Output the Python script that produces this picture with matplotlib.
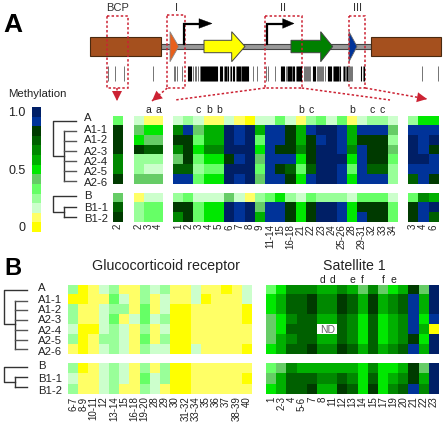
import matplotlib
matplotlib.use("Agg")
import matplotlib.pyplot as plt
import numpy as np
from matplotlib.colors import ListedColormap, BoundaryNorm
from matplotlib.patches import Polygon, Rectangle

plt.rcParams['font.family'] = ['Liberation Sans', 'DejaVu Sans']

W, H = 445, 424

# colour scale, lowest methylation first
LEVEL_COLORS = ['#ffff00', '#ffff66', '#ccffcc', '#99ff99', '#66ff66', '#66cc66', '#00e800',
                '#00b000', '#008800', '#006000', '#003a00', '#003399', '#001f66']

GROUP_A = ['A', 'A1-1', 'A1-2', 'A2-3', 'A2-4', 'A2-5', 'A2-6']
GROUP_B = ['B', 'B1-1', 'B1-2']

# panel A, rows are clones, columns are CpG sites
BCP_COLS = ['2']
BCP_A = [[4], [10], [10], [10], [8], [8], [10]]
BCP_B = [[5], [9], [10]]

REGION1_COLS = ['2', '3', '4']
REGION1_A = [[2, 1, 1], [5, 6, 6], [6, 5, 5], [10, 9, 9], [3, 3, 3], [3, 2, 2], [5, 5, 5]]
REGION1_B = [[1, 2, 2], [3, 4, 4], [3, 4, 4]]

REGION2_COLS = ['1', '2', '3', '4', '5', '6', '7', '8', '9', '11-14', '15', '16-18', '21', '22', '23',
                '24', '25-26', '28', '29-31', '32', '33', '34']
REGION2_A = [
    [2, 3, 2, 1, 1, 2, 1, 0, 2, 2, 4, 2, 1, 3, 4, 2, 4, 1, 2, 3, 3, 2],
    [8, 11, 5, 7, 7, 12, 11, 12, 7, 11, 11, 10, 7, 11, 12, 12, 11, 7, 11, 11, 11, 5],
    [10, 10, 4, 7, 7, 12, 11, 12, 4, 11, 11, 10, 7, 10, 11, 12, 11, 7, 10, 10, 10, 3],
    [8, 10, 6, 8, 8, 12, 12, 12, 6, 11, 10, 10, 8, 10, 12, 12, 11, 8, 11, 10, 10, 5],
    [5, 10, 4, 6, 6, 10, 11, 12, 5, 11, 11, 11, 6, 10, 12, 12, 12, 6, 11, 10, 10, 4],
    [9, 9, 3, 4, 4, 12, 12, 12, 4, 11, 10, 9, 4, 9, 12, 12, 11, 4, 11, 9, 9, 3],
    [11, 11, 4, 6, 6, 12, 11, 12, 5, 11, 11, 10, 6, 11, 12, 12, 11, 6, 11, 11, 11, 3],
]
REGION2_B = [
    [3, 4, 2, 2, 2, 5, 2, 1, 3, 4, 6, 3, 2, 4, 3, 3, 3, 2, 4, 4, 4, 2],
    [10, 10, 4, 6, 6, 12, 11, 12, 5, 11, 11, 10, 6, 10, 12, 12, 11, 6, 10, 10, 10, 4],
    [8, 10, 4, 6, 6, 12, 11, 12, 7, 11, 11, 10, 6, 10, 12, 12, 11, 6, 11, 10, 10, 4],
]

REGION3_COLS = ['3', '4', '6']
REGION3_A = [[3, 6, 6], [11, 11, 11], [12, 11, 12], [12, 11, 10], [12, 12, 11], [11, 11, 11], [9, 11, 10]]
REGION3_B = [[4, 8, 7], [10, 11, 12], [10, 11, 9]]

# panel B
GR_COLS = ['6-7', '8-9', '10-11', '12', '13-14', '15', '16-18', '19-20', '28', '29', '30', '31-32',
           '33-34', '35', '36', '37', '38-39', '40']
GR_A = [
    [3, 0, 1, 2, 3, 1, 1, 3, 2, 3, 1, 1, 2, 1, 1, 0, 1, 2],
    [0, 0, 1, 1, 4, 2, 1, 3, 1, 2, 1, 1, 2, 0, 1, 1, 1, 2],
    [3, 1, 1, 2, 3, 3, 1, 4, 1, 2, 0, 0, 1, 1, 1, 1, 1, 0],
    [3, 1, 1, 2, 4, 1, 2, 4, 2, 3, 0, 0, 1, 1, 1, 1, 1, 0],
    [2, 0, 0, 2, 3, 2, 1, 3, 1, 2, 0, 0, 1, 1, 1, 1, 1, 1],
    [3, 0, 1, 3, 3, 2, 1, 4, 1, 3, 0, 0, 1, 1, 1, 1, 1, 1],
    [1, 0, 1, 2, 3, 2, 1, 3, 2, 2, 0, 0, 2, 1, 1, 1, 1, 0],
]
GR_B = [
    [3, 0, 1, 2, 3, 2, 1, 3, 1, 3, 0, 0, 1, 1, 1, 1, 1, 1],
    [2, 1, 1, 2, 3, 2, 1, 4, 2, 3, 0, 0, 1, 1, 1, 1, 1, 0],
    [3, 1, 1, 2, 3, 1, 1, 3, 2, 1, 0, 0, 1, 1, 1, 1, 1, 1],
]

SAT_COLS = ['1', '2-3', '4', '5-6', '7', '8', '11', '12', '13', '14', '15', '17', '19', '20', '21', '22', '23']
SAT_A = [
    [4, 6, 8, 8, 8, 7, 7, 8, 7, 5, 8, 5, 6, 7, 10, 5, 12],
    [6, 7, 9, 9, 10, 8, 8, 10, 9, 7, 10, 7, 8, 9, 11, 7, 12],
    [6, 7, 9, 9, 10, 8, 8, 10, 9, 7, 10, 7, 8, 9, 11, 7, 12],
    [5, 6, 8, 9, 9, 7, 7, 9, 8, 6, 9, 6, 7, 8, 11, 6, 11],
    [5, 6, 9, 9, 9, np.nan, np.nan, 9, 8, 6, 9, 6, 7, 8, 11, 7, 0],
    [5, 7, 8, 9, 9, 7, 7, 9, 8, 6, 9, 6, 7, 8, 10, 6, 12],
    [6, 7, 9, 9, 10, 8, 8, 10, 9, 7, 9, 7, 8, 9, 11, 7, 12],
]
SAT_B = [
    [4, 5, 8, 7, 7, 7, 7, 7, 7, 6, 8, 6, 6, 7, 10, 5, 12],
    [5, 7, 9, 9, 9, 8, 8, 9, 8, 6, 9, 6, 7, 8, 10, 7, 12],
    [6, 7, 9, 9, 10, 7, 7, 10, 9, 6, 10, 6, 8, 9, 11, 8, 12],
]

# letters above the heat maps, by column label
REGION1_MARKS = {'3': 'a', '4': 'a'}
REGION2_MARKS = {'3': 'c', '4': 'b', '5': 'b', '21': 'b', '22': 'c', '28': 'b', '32': 'c', '33': 'c'}
SAT_MARKS = {'8': 'd', '11': 'd', '13': 'e', '14': 'f', '17': 'f', '19': 'e'}

# CpG site positions along the map, black where they crowd together
CPG_DARK = [188, 189, 190, 191, 201, 202, 203, 204, 205, 206, 207, 208, 209, 210, 211, 212, 213, 214, 215,
            216, 217, 220, 221, 222, 225, 226, 228, 231, 233, 234, 237, 238, 239, 240, 242, 243, 244, 245,
            246, 247, 248, 281, 282, 283, 284, 288, 289, 290, 291, 293, 294, 297, 298, 299, 300, 301,
            313, 314, 315, 328, 329, 330, 331, 334, 335, 336, 337, 338, 340, 344, 347, 361, 364]
CPG_LIGHT = [107.7, 115, 124.3, 152.7, 173.5, 175, 177, 182.3, 193, 195, 196, 198, 199.5, 223.5, 227, 229.5,
             235.5, 241, 253, 257, 266, 268, 275, 285.5, 286.5, 292, 295.5, 304, 305, 306, 307, 308, 309,
             310, 317, 318, 319, 320, 321, 322, 323, 325, 333, 339, 343, 345, 346, 348, 349, 350, 351, 352,
             362.5, 422.3, 437.7]

cmap = ListedColormap(LEVEL_COLORS)
cmap.set_bad('white')
norm = BoundaryNorm(np.arange(-0.5, 13.5), cmap.N)
fig = plt.figure(figsize=(W / 100, H / 100), dpi=100)


def px_axes(x0, y0, x1, y1, **kw):
    return fig.add_axes([x0 / W, 1 - y1 / H, (x1 - x0) / W, (y1 - y0) / H], **kw)


def heat(x0, x1, y0, y1, values, cols=None):
    ax = px_axes(x0, y0, x1, y1)
    ax.imshow(np.array(values, dtype=float), cmap=cmap, norm=norm, aspect='auto', interpolation='nearest')
    ax.set_yticks([])
    for s in ax.spines.values():
        s.set_visible(False)
    if cols:
        ax.set_xticks(range(len(cols)), cols, rotation=90, fontsize=7, color='#222222')
        ax.tick_params(axis='x', length=0, pad=1.5)
    else:
        ax.set_xticks([])
    return ax


# the marks belong above the A block but the column labels below the B block
def block(x0, x1, ya, yb, vals_a, vals_b, cols, marks=None):
    ax_a = heat(x0, x1, ya[0], ya[1], vals_a)
    heat(x0, x1, yb[0], yb[1], vals_b, cols)
    if marks:
        for label, letter in marks.items():
            ax_a.text(cols.index(label), -0.55, letter, ha='center', va='bottom', fontsize=7.5, color='#222222')
    return ax_a


YA1, YB1 = (115.7, 184), (192.7, 222)
block(112.7, 122, YA1, YB1, BCP_A, BCP_B, BCP_COLS)
block(134, 163, YA1, YB1, REGION1_A, REGION1_B, REGION1_COLS, REGION1_MARKS)
block(173, 397.7, YA1, YB1, REGION2_A, REGION2_B, REGION2_COLS, REGION2_MARKS)
block(407.7, 438.3, YA1, YB1, REGION3_A, REGION3_B, REGION3_COLS)

YA2, YB2 = (285, 354.3), (363.3, 394.3)
block(68, 251.7, YA2, YB2, GR_A, GR_B, GR_COLS)
sat = block(266.3, 439, YA2, YB2, SAT_A, SAT_B, SAT_COLS, SAT_MARKS)
sat.text(5.5, 4, 'ND', ha='center', va='center', fontsize=7.5, color='#666666')

# colour key
key = px_axes(31.7, 106.7, 40.7, 231.7)
key.imshow(np.arange(13).reshape(-1, 1), cmap=cmap, norm=norm, aspect='auto', origin='lower')
key.set_xticks([])
key.set_yticks([0, 6, 12], ['0', '0.5', '1.0'], fontsize=9, color='#222222')
key.tick_params(axis='y', length=0, pad=4.5)
for s in key.spines.values():
    s.set_visible(False)

# everything schematic goes on a pixel overlay
ov = fig.add_axes([0, 0, 1, 1], zorder=5)
ov.set_xlim(0, W)
ov.set_ylim(H, 0)
ov.axis('off')

ov.text(3, 32, 'A', fontsize=19, fontweight='bold', va='baseline')
ov.text(4, 275, 'B', fontsize=17, fontweight='bold', va='baseline')
ov.text(8, 94, 'Methylation', fontsize=8.2, va='center', color='#222222')
ov.text(166, 266, 'Glucocorticoid receptor', fontsize=10.3, ha='center', va='center', color='#222222')
ov.text(354.3, 266, 'Satellite 1', fontsize=10.2, ha='center', va='center', color='#222222')
for x, s in [(118, 'BCP'), (177, 'I'), (283, 'II'), (357, 'III')]:
    ov.text(x, 8, s, fontsize=8, ha='center', va='center', color='#333333')

# row labels
for y, s in zip([118, 130, 140, 151.7, 161.7, 172, 182.7, 195.7, 208, 219], GROUP_A + GROUP_B):
    ov.text(84, y, s, fontsize=8.2, va='center', color='#222222')
for y, s in zip([287.7, 300, 310, 320, 331, 341, 352, 366, 378.5, 391], GROUP_A + GROUP_B):
    ov.text(37.7, y, s, fontsize=8.2, va='center', color='#222222')


def tree(root_x, inner_x, end_x, ya, y_join, y_leaves, yb, y_join_b, y_leaves_b):
    lines = dict(color='#333333', lw=1)
    ov.plot([end_x, root_x, root_x, inner_x], [ya, ya, y_join, y_join], **lines)
    ov.plot([inner_x, inner_x], [y_leaves[0], y_leaves[-1]], **lines)
    for y in y_leaves:
        ov.plot([inner_x, end_x], [y, y], color='#555555', lw=1)
    ov.plot([end_x, root_x, root_x, inner_x], [yb, yb, y_join_b, y_join_b], **lines)
    ov.plot([inner_x, inner_x], [y_leaves_b[0], y_leaves_b[-1]], **lines)
    for y in y_leaves_b:
        ov.plot([inner_x, end_x], [y, y], **lines)


tree(53.3, 63.5, 75.7, 120.7, 156, [130.7, 140.8, 150.8, 160.9, 171, 181], 196, 211.7, [206.7, 216.7])
tree(3.7, 14.7, 26.7, 290, 324, [300.7, 310.4, 320.1, 329.9, 339.6, 349.3], 367, 381.7, [377, 387.3])

# gene map
BROWN = '#a5501e'
ov.add_patch(Rectangle((160, 43.7), 211, 5.6, fc='#999999', ec='#444444', lw=0.8))
ov.add_patch(Rectangle((90, 37), 70.7, 18.7, fc=BROWN, ec='#4a2a10', lw=0.8))
ov.add_patch(Rectangle((371, 37), 70, 18.7, fc=BROWN, ec='#4a2a10', lw=0.8))
ov.add_patch(Polygon([(170, 31.7), (178.7, 46.5), (170, 61.7)], fc='#e8601c', ec='#888888', lw=0.6))
ov.add_patch(Polygon([(349, 31.7), (357, 46.5), (349, 61.7)], fc='#003399', ec='#666666', lw=0.6))


def gene(x0, xh, x1, color):
    ov.add_patch(Polygon([(x0, 40.3), (xh, 40.3), (xh, 31.7), (x1, 46.5), (xh, 61.7), (xh, 52.7), (x0, 52.7)],
                         fc=color, ec='#444444', lw=0.7))


gene(204, 231.7, 245, '#ffff00')
gene(291, 320.7, 332.7, '#008000')


def promoter(x, xh, x1):
    ov.plot([x, x, xh], [43.7, 23.5, 23.5], color='black', lw=1.6, solid_joinstyle='miter')
    ov.add_patch(Polygon([(xh, 18.7), (x1, 23.5), (xh, 28.3)], fc='black', ec='black', lw=0.3))


promoter(184.3, 199, 212)
promoter(266.7, 282.7, 294)

ov.vlines(CPG_LIGHT, 66, 80.7, color='#777777', lw=0.72)
ov.vlines(CPG_DARK, 66, 80.7, color='black', lw=0.8)

# red dashed boxes and the arrows down to the blocks
RED = '#cc2233'
dash = dict(ls=(0, (1.6, 1.4)), lw=1.1)
for x0, x1, y0 in [(107.3, 127.7, 16), (167.3, 184.7, 14.7), (265, 301.7, 15.7), (349, 365.3, 15.7)]:
    ov.add_patch(Rectangle((x0, y0), x1 - x0, 88 - y0, fc='none', ec=RED, **dash))

for start, end, head in [((117, 88), (117, 101), True), ((167.3, 88), (152, 101), True),
                         ((265, 88), (175, 100), False), ((301.7, 88), (390, 100), False),
                         ((365.3, 88), (427, 99), True)]:
    ov.plot([start[0], end[0]], [start[1], end[1]], color=RED, **dash)
    if head:
        d = np.array(end) - np.array(start)
        tail = np.array(end) - d / np.hypot(*d) * 8
        ov.annotate('', xy=end, xytext=tail,
                    arrowprops=dict(arrowstyle='-|>,head_length=0.6,head_width=0.3', color=RED, lw=0,
                                    mutation_scale=12, shrinkA=0, shrinkB=0))

fig.savefig('out.png', dpi=100)
